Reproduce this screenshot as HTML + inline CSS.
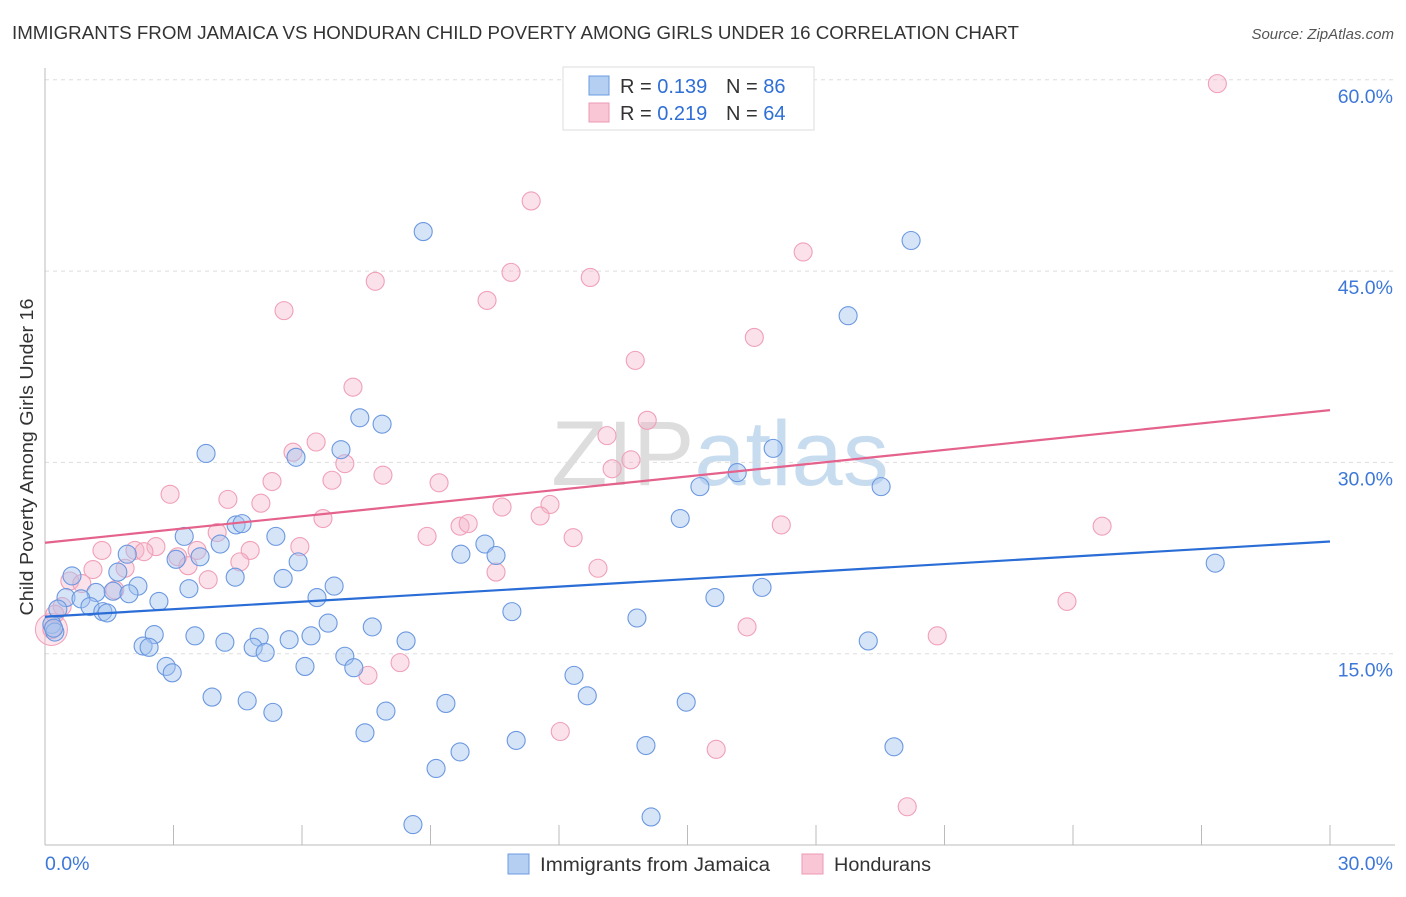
<!DOCTYPE html>
<html><head><meta charset="utf-8"><style>
body{margin:0;background:#fff;font-family:"Liberation Sans",sans-serif;}
svg text{font-family:"Liberation Sans",sans-serif;}
</style></head><body>
<svg id="chart" width="1406" height="892" xmlns="http://www.w3.org/2000/svg">
<text x="12" y="39" font-size="18" fill="#333" textLength="1007" lengthAdjust="spacingAndGlyphs">IMMIGRANTS FROM JAMAICA VS HONDURAN CHILD POVERTY AMONG GIRLS UNDER 16 CORRELATION CHART</text>
<text x="1394" y="39" font-size="15" fill="#555" text-anchor="end" font-style="italic">Source: ZipAtlas.com</text>
<text x="720" y="485" font-size="92" fill="#ddd" text-anchor="middle" font-family="Liberation Serif">ZIP<tspan fill="#c8dcf0" font-family="Liberation Sans">atlas</tspan></text>
<g id="grid"></g>
<g id="axes"></g>
<text transform="translate(33,457) rotate(-90)" font-size="18" fill="#333" text-anchor="middle" textLength="317" lengthAdjust="spacingAndGlyphs">Child Poverty Among Girls Under 16</text>
<g id="marks"></g>
<g id="lines"></g>
<g>
<rect x="563" y="67" width="251" height="63" fill="#fff" stroke="#ddd"/>
<rect x="589" y="76" width="20" height="19" fill="#b5cff3" stroke="#6b9be0"/>
<rect x="589" y="103" width="20" height="19" fill="#f8c6d5" stroke="#ee9ab4"/>
<text x="620" y="93" font-size="20" fill="#333">R = <tspan fill="#2f6fd6">0.139</tspan><tspan x="726">N = </tspan><tspan fill="#2f6fd6">86</tspan></text>
<text x="620" y="120" font-size="20" fill="#333">R = <tspan fill="#2f6fd6">0.219</tspan><tspan x="726">N = </tspan><tspan fill="#2f6fd6">64</tspan></text>
</g>
<g>
<rect x="508" y="854" width="21" height="20" fill="#b5cff3" stroke="#6b9be0"/>
<text x="540" y="871" font-size="19" fill="#333" textLength="230" lengthAdjust="spacingAndGlyphs">Immigrants from Jamaica</text>
<rect x="802" y="854" width="21" height="20" fill="#f8c6d5" stroke="#ee9ab4"/>
<text x="834" y="871" font-size="19" fill="#333" textLength="97" lengthAdjust="spacingAndGlyphs">Hondurans</text>
</g>
</svg>
<script>
const blueX=[8.83,20.22,18.75,7.35,7.87,3.76,5.86,6.91,17.0,16.16,15.29,19.52,14.83,4.46,4.6,3.25,5.39,4.09,10.27,1.92,3.62,9.71,10.53,3.06,5.91,1.70,0.63,4.44,5.56,2.17,6.75,1.59,1.19,3.36,0.49,0.84,1.96,2.66,6.35,16.74,15.64,27.32,1.05,1.35,0.3,10.9,13.82,1.45,6.61,7.64,0.16,0.23,2.55,3.5,5.0,5.7,6.21,8.43,4.2,19.22,2.29,2.43,4.86,5.14,7.0,2.83,2.97,6.07,7.21,12.35,3.9,4.72,12.66,14.97,9.36,7.96,5.32,7.47,11.0,9.69,14.03,19.82,9.13,8.59,14.15,0.2];
const blueY=[48.1,47.4,41.5,33.5,33.0,30.7,30.4,31.0,31.1,29.2,28.1,28.1,25.6,25.1,25.2,24.2,24.2,23.6,23.6,22.8,22.6,22.8,22.7,22.4,22.2,21.4,21.1,21.0,20.9,20.3,20.3,19.9,19.8,20.1,19.4,19.3,19.7,19.1,19.4,20.2,19.4,22.1,18.7,18.3,18.5,18.3,17.8,18.2,17.4,17.1,17.3,16.7,16.5,16.4,16.3,16.1,16.4,16.0,15.9,16.0,15.6,15.5,15.5,15.1,14.8,14.0,13.5,14.0,13.9,13.3,11.6,11.3,11.7,11.2,11.1,10.5,10.4,8.8,8.2,7.3,7.8,7.7,6.0,1.6,2.2,17.0];
const pinkX=[27.37,11.35,17.7,7.71,10.88,12.73,10.32,5.58,16.56,13.78,7.19,14.06,13.12,6.33,5.79,13.68,7.0,13.24,7.89,5.3,6.7,9.2,2.92,4.27,5.04,11.79,10.67,11.56,6.49,9.69,9.88,17.19,24.68,4.02,8.92,12.33,2.59,5.95,2.1,1.33,2.31,3.55,4.79,3.1,4.55,3.34,1.87,12.91,1.12,10.53,3.81,0.58,0.86,1.63,23.86,0.4,0.23,16.39,20.83,0.16,8.29,7.54,12.03,15.67,20.13];
const pinkY=[59.7,50.5,46.5,44.2,44.9,44.5,42.7,41.9,39.8,38.0,35.9,33.3,32.1,31.6,30.8,30.2,29.9,29.5,29.0,28.5,28.6,28.4,27.5,27.1,26.8,26.7,26.5,25.8,25.6,25.0,25.2,25.1,25.0,24.5,24.2,24.1,23.4,23.4,23.1,23.1,23.0,23.1,23.1,22.6,22.2,21.9,21.7,21.7,21.6,21.4,20.8,20.7,20.5,20.0,19.1,18.7,18.1,17.1,16.4,16.9,14.3,13.3,8.9,7.5,3.0];
const yTicks=[15,30,45,60];
const xTickLabels=["0.0%","30.0%"];
const blueTrend=[17.9,23.8];
const pinkTrend=[23.7,34.1];
const NS="http://www.w3.org/2000/svg";
const X=v=>45+v/30*1285;
const Y=v=>845-v/15*191.3;
function mk(tag,attrs,parent){const e=document.createElementNS(NS,tag);for(const k in attrs)e.setAttribute(k,attrs[k]);document.getElementById(parent).appendChild(e);return e;}
yTicks.forEach(t=>{
  const g=mk('line',{x1:45,x2:1395,y1:Y(t),y2:Y(t),stroke:'#ddd','stroke-dasharray':'4,4'},'grid');
  
  
  const l=mk('text',{x:1393,y:Y(t)+23,'font-size':19.5,fill:'#3d78d8','text-anchor':'end'},'grid');
  l.textContent=t.toFixed(1)+'%';
  
  
});
const ax=mk('line',{x1:45,x2:45,y1:68,y2:845,stroke:'#bbb'},'axes');


const bx=mk('line',{x1:45,x2:1395,y1:845,y2:845,stroke:'#bbb'},'axes');


for(let i=1;i<=10;i++){
  const t=mk('line',{x1:X(i*3),x2:X(i*3),y1:825,y2:845,stroke:'#bbb'},'axes');
  
  
}
const xl0=mk('text',{x:45,y:870,'font-size':19.5,fill:'#3d78d8'},'axes');xl0.textContent=xTickLabels[0];


const xl1=mk('text',{x:1393,y:870,'font-size':19.5,fill:'#3d78d8','text-anchor':'end'},'axes');xl1.textContent=xTickLabels[1];


const big1=mk('circle',{cx:X(0.15),cy:Y(16.9),r:16,fill:'rgba(245,180,200,0.35)',stroke:'#f0a0b8'},'marks');


pinkX.forEach((x,i)=>{
  const c=mk('circle',{cx:X(x),cy:Y(pinkY[i]),r:9,fill:'rgba(245,180,200,0.4)',stroke:'#f0a0b8','stroke-width':1.1},'marks');
  
  
});
blueX.forEach((x,i)=>{
  const c=mk('circle',{cx:X(x),cy:Y(blueY[i]),r:9,fill:'rgba(164,196,240,0.45)',stroke:'#6b98e0','stroke-width':1.1},'marks');
  
  
});
const bl=mk('line',{x1:X(0),x2:X(30),y1:Y(blueTrend[0]),y2:Y(blueTrend[1]),stroke:'#2a6dd6','stroke-width':2.2},'lines');


const pl=mk('line',{x1:X(0),x2:X(30),y1:Y(pinkTrend[0]),y2:Y(pinkTrend[1]),stroke:'#e4628c','stroke-width':2.2},'lines');


</script>
</body></html>
